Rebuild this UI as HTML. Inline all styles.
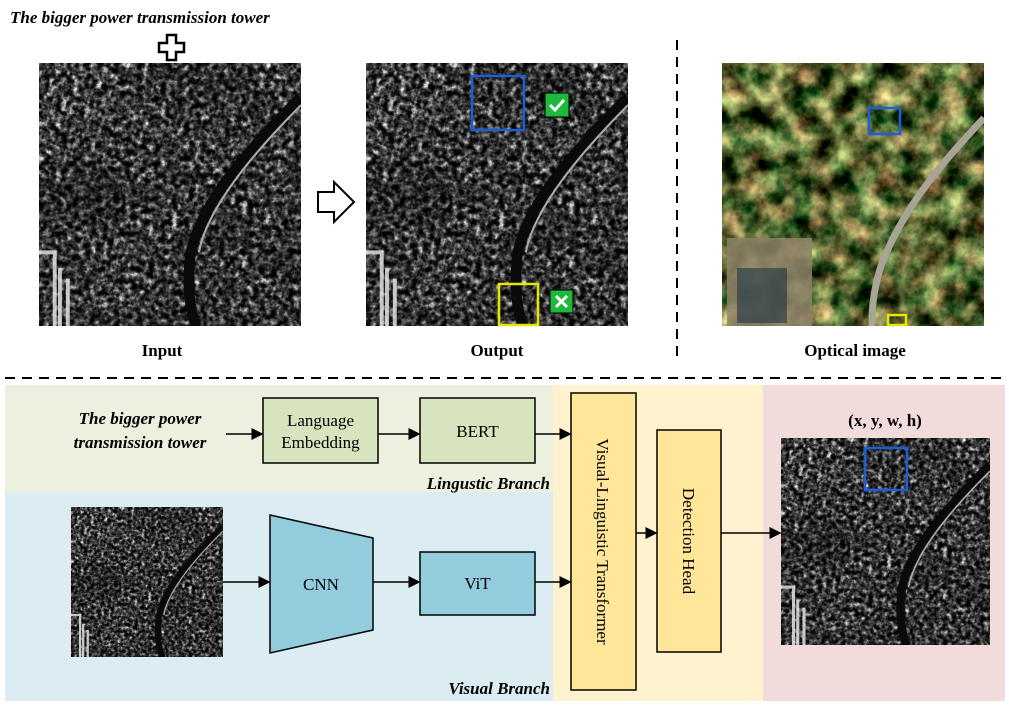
<!DOCTYPE html>
<html><head><meta charset="utf-8"><style>
body{margin:0;width:1009px;height:711px;background:#fff;overflow:hidden;font-family:"Liberation Serif",serif;}
</style></head><body>
<svg width="1009" height="711" viewBox="0 0 1009 711" xmlns="http://www.w3.org/2000/svg">
<defs>
<filter id="sar" x="0" y="0" width="100%" height="100%" color-interpolation-filters="sRGB">
<feTurbulence type="fractalNoise" baseFrequency="0.45" numOctaves="3" seed="4"/>
<feColorMatrix type="matrix" values="1.1 1.1 0 0 -0.68  1.1 1.1 0 0 -0.68  1.1 1.1 0 0 -0.68  0 0 0 0 1"/>
<feComponentTransfer><feFuncR type="gamma" amplitude="1.1" exponent="1.8" offset="0"/><feFuncG type="gamma" amplitude="1.1" exponent="1.8" offset="0"/><feFuncB type="gamma" amplitude="1.1" exponent="1.8" offset="0"/></feComponentTransfer>
</filter>
<filter id="sar2" x="0" y="0" width="100%" height="100%" color-interpolation-filters="sRGB">
<feTurbulence type="fractalNoise" baseFrequency="0.025" numOctaves="2" seed="9"/>
<feColorMatrix type="matrix" values="0 0 0 0 0  0 0 0 0 0  0 0 0 0 0  1.5 0 0 0 -0.5"/>
</filter>
<filter id="opt" x="0" y="0" width="100%" height="100%" color-interpolation-filters="sRGB">
<feTurbulence type="fractalNoise" baseFrequency="0.045" numOctaves="4" seed="2"/>
<feColorMatrix type="matrix" values="1.6 0 0 0 -0.45  1.3 0.4 0 0 -0.45  1.0 0.2 0 0 -0.4  0 0 0 0 1"/>
</filter>
<marker id="ah" markerWidth="8" markerHeight="8" refX="7" refY="4" orient="auto"><path d="M0,0 L8,4 L0,8 z" fill="#000"/></marker>
<symbol id="sarimg" viewBox="0 0 100 100" preserveAspectRatio="none">
<rect width="100" height="100" fill="#333"/>
<rect width="100" height="100" filter="url(#sar)"/>
<rect width="100" height="100" filter="url(#sar2)" opacity="0.6"/>
<path d="M100,13 C80,33 62,53 58,72 C56,85 58,95 60,100" stroke="#0a0a0a" stroke-width="4" fill="none"/>
<path d="M100,16 C80,36 64,56 61,72" stroke="#aaa" stroke-width="0.8" fill="none"/>
<path d="M0,72 l6,0 l0,28 M8,78 l0,22 M11,82 l0,18" stroke="#eee" stroke-width="1.5" fill="none" opacity="0.8"/>
</symbol>
</defs>

<text x="10" y="23" font-size="17" font-weight="bold" font-style="italic">The bigger power transmission tower</text>
<path d="M167,35h9v8h8v9h-8v8h-9v-8h-8v-9h8z" fill="#fff" stroke="#000" stroke-width="2.5"/>

<svg x="39" y="63" width="262" height="263"><use href="#sarimg" width="262" height="263"/></svg>
<path d="M318,192h16v-10l20,20l-20,20v-10h-16z" fill="#fff" stroke="#000" stroke-width="2"/>
<svg x="366" y="63" width="262" height="263"><use href="#sarimg" width="262" height="263"/></svg>
<rect x="472" y="76" width="52" height="54" fill="none" stroke="#1a5fd8" stroke-width="2.5"/>
<rect x="545" y="93" width="24" height="24" fill="#1cb93a" stroke="#000" stroke-width="1"/>
<path d="M550,105l5,5l9,-10" stroke="#fff" stroke-width="3" fill="none"/>
<rect x="499" y="284" width="39" height="41" fill="none" stroke="#e6e600" stroke-width="2.5"/>
<rect x="550" y="290" width="23" height="23" fill="#1cb93a" stroke="#000" stroke-width="1"/>
<path d="M556,296l11,11M567,296l-11,11" stroke="#fff" stroke-width="3"/>

<line x1="677" y1="40" x2="677" y2="356" stroke="#000" stroke-width="2" stroke-dasharray="10,7"/>
<svg x="722" y="63" width="262" height="263">
<rect width="262" height="263" fill="#4a5030"/><rect width="262" height="263" filter="url(#opt)"/>
<path d="M262,55 C210,110 180,150 160,200 C150,230 150,250 150,263" stroke="#a8a496" stroke-width="7" fill="none"/>
<rect x="5" y="175" width="85" height="88" fill="#8e826a" opacity="0.85"/>
<rect x="15" y="205" width="50" height="55" fill="#2f4048" opacity="0.7"/>
</svg>
<rect x="869" y="108" width="31" height="26" fill="none" stroke="#1a5fd8" stroke-width="2.5"/>
<rect x="888" y="315" width="18" height="10" fill="none" stroke="#e6e600" stroke-width="2.5"/>

<g font-size="17" font-weight="bold" text-anchor="middle">
<text x="162" y="356">Input</text>
<text x="497" y="356">Output</text>
<text x="855" y="356">Optical image</text>
</g>
<line x1="5" y1="378" x2="1005" y2="378" stroke="#000" stroke-width="2" stroke-dasharray="10,7"/>

<rect x="5" y="385" width="548" height="107" fill="#ebf1de"/>
<rect x="5" y="492" width="548" height="209" fill="#dbecf2"/>
<rect x="553" y="385" width="210" height="316" fill="#fef2cf"/>
<rect x="763" y="385" width="242" height="316" fill="#f1dcdb"/>

<g font-size="17" font-weight="bold" font-style="italic" text-anchor="middle">
<text x="140" y="424">The bigger power</text>
<text x="140" y="448">transmission tower</text>
</g>
<rect x="263" y="398" width="115" height="65" fill="#d7e4bd" stroke="#000" stroke-width="1.5"/>
<text x="320.5" y="426" font-size="17" text-anchor="middle">Language</text>
<text x="320.5" y="448" font-size="17" text-anchor="middle">Embedding</text>
<rect x="420" y="398" width="115" height="65" fill="#d7e4bd" stroke="#000" stroke-width="1.5"/>
<text x="477.5" y="437" font-size="17" text-anchor="middle">BERT</text>
<text x="550" y="489" font-size="17" font-weight="bold" font-style="italic" text-anchor="end">Lingustic Branch</text>

<svg x="71" y="507" width="152" height="150"><use href="#sarimg" width="152" height="150"/></svg>
<path d="M270,515L373,538L373,630L270,653z" fill="#93cddd" stroke="#000" stroke-width="1.5"/>
<text x="321" y="590" font-size="17" text-anchor="middle">CNN</text>
<rect x="420" y="552" width="115" height="63" fill="#93cddd" stroke="#000" stroke-width="1.5"/>
<text x="477.5" y="589" font-size="17" text-anchor="middle">ViT</text>
<text x="550" y="694" font-size="17" font-weight="bold" font-style="italic" text-anchor="end">Visual Branch</text>

<rect x="571" y="393" width="65" height="297" fill="#ffe699" stroke="#000" stroke-width="1.5"/>
<text transform="translate(597,541.5) rotate(90)" font-size="17" text-anchor="middle">Visual-Linguistic  Transformer</text>
<rect x="657" y="430" width="64" height="222" fill="#ffe699" stroke="#000" stroke-width="1.5"/>
<text transform="translate(683,541) rotate(90)" font-size="17" text-anchor="middle">Detection Head</text>

<text x="885" y="426" font-size="17" font-weight="bold" text-anchor="middle">(x, y, w, h)</text>
<svg x="781" y="438" width="209" height="207"><use href="#sarimg" width="209" height="207"/></svg>
<rect x="865" y="448" width="42" height="42" fill="none" stroke="#1a5fd8" stroke-width="2.5"/>

<g stroke="#000" stroke-width="1.5" marker-end="url(#ah)">
<line x1="226" y1="434" x2="262" y2="434"/>
<line x1="378" y1="434" x2="419" y2="434"/>
<line x1="535" y1="434" x2="570" y2="434"/>
<line x1="223" y1="582" x2="269" y2="582"/>
<line x1="373" y1="582" x2="419" y2="582"/>
<line x1="535" y1="582" x2="570" y2="582"/>
<line x1="636" y1="533" x2="656" y2="533"/>
<line x1="721" y1="533" x2="780" y2="533"/>
</g>
</svg>
</body></html>
